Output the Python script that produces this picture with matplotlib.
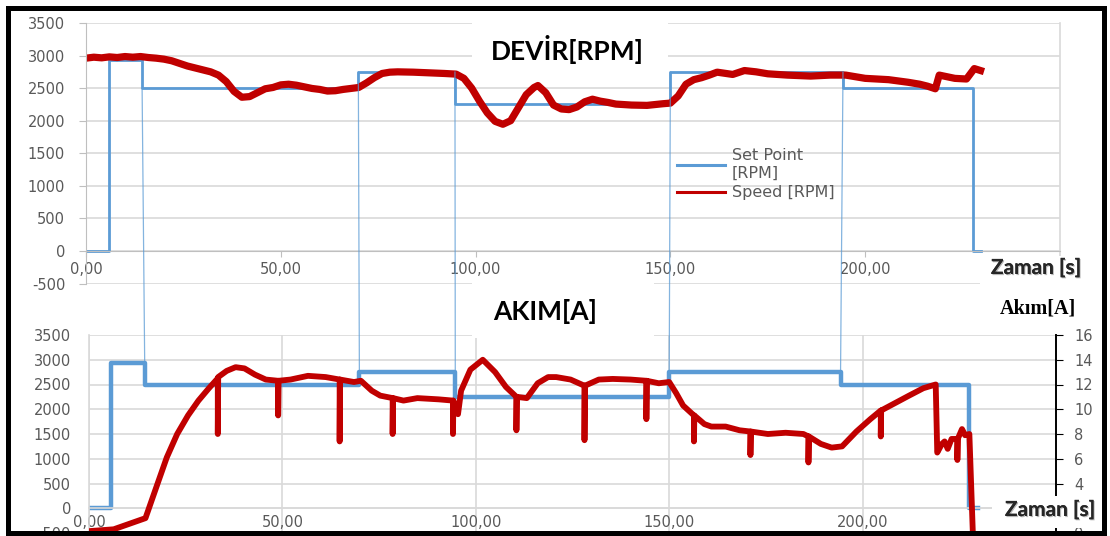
import numpy as np
import matplotlib
matplotlib.use('Agg')
import matplotlib.pyplot as plt
from matplotlib.patches import ConnectionPatch, Rectangle
from matplotlib.lines import Line2D
import matplotlib.patheffects as pe

plt.rcParams['axes.unicode_minus'] = False

# ---------------- data ----------------
# set point (RPM), step changes (same profile in both charts)
sp_t = [0, 5.8, 14.4, 69.9, 94.7, 150.0, 194.3, 227.6, 229.8]
sp_rpm = [0, 2930, 2500, 2750, 2250, 2750, 2500, 0, 0]

# measured speed (RPM), top chart
spd_t = [0, 2, 4, 6, 8, 10, 12, 14, 16, 18, 20, 22, 24, 26, 28, 30, 32, 34, 36,
         38, 40, 42, 44, 46, 48, 50, 52, 54, 56, 58, 60, 62, 64, 66, 68, 70, 72,
         74, 76, 78, 80, 84, 88, 92, 95, 97, 99, 101, 103, 105, 107, 109, 111,
         113, 115, 116, 118, 120, 122, 124, 126, 128, 130, 132, 134, 136, 140,
         144, 148, 150, 152, 154, 156, 158, 160, 162, 166, 169, 172, 175, 180,
         186, 191, 195, 200, 206, 211, 214, 216, 218, 219, 223, 226, 228, 229.6]
spd_rpm = [2960, 2975, 2965, 2980, 2970, 2985, 2975, 2985, 2970, 2960, 2945,
           2920, 2880, 2840, 2810, 2780, 2750, 2700, 2600, 2450, 2360, 2370,
           2430, 2490, 2510, 2550, 2560, 2545, 2520, 2495, 2480, 2455, 2460,
           2480, 2495, 2510, 2580, 2660, 2725, 2745, 2750, 2745, 2735, 2725,
           2715, 2650, 2500, 2300, 2120, 1990, 1945, 2000, 2200, 2400, 2510,
           2540, 2430, 2240, 2180, 2170, 2210, 2290, 2330, 2300, 2280, 2255,
           2240, 2235, 2260, 2270, 2380, 2560, 2630, 2660, 2700, 2745, 2710,
           2770, 2750, 2720, 2700, 2685, 2700, 2700, 2650, 2630, 2590, 2560,
           2530, 2490, 2700, 2650, 2640, 2800, 2770]

# motor current (A), bottom chart (right axis); sharp dips are load pulses
cur_t = [0, 6.4, 14.6, 17.4, 20.1, 22.8, 25.6, 28.3, 31.0,
         33.3, 33.3, 33.4, 35.6, 37.9, 40.2, 42.9, 45.7,
         48.9, 48.9, 49.0, 52.1, 56.6, 61.2,
         64.8, 64.8, 64.9, 68.5, 70.3, 73.1, 75.3,
         78.5, 78.5, 78.6, 81.3, 84.9, 90.4,
         94.1, 94.1, 94.2, 95.4, 96.2, 98.6, 101.8, 105.0, 107.8,
         110.5, 110.5, 110.6, 113.2, 116.0, 118.7, 120.8, 124.5,
         128.1, 128.1, 128.2, 131.8, 135.4, 140.0,
         144.1, 144.1, 144.2, 147.3, 150.0, 151.8, 153.6,
         156.4, 156.4, 156.5, 159.1, 160.9, 164.6, 168.2,
         171.0, 171.0, 171.1, 175.5, 180.1, 184.7,
         186.0, 186.0, 186.1, 189.2, 192.0, 194.7, 198.4, 202.0,
         204.7, 204.7, 204.8, 208.4, 212.0, 215.7, 218.9, 219.3, 220.5,
         221.2, 222.0, 223.0, 224.5, 224.5, 224.6, 225.7, 226.5, 227.6, 228.5]
cur_a = [0.15, 0.3, 1.2, 3.7, 6.1, 8.0, 9.5, 10.7, 11.7,
         12.5, 8.0, 12.6, 13.1, 13.4, 13.3, 12.8, 12.4,
         12.3, 9.5, 12.3, 12.4, 12.7, 12.6,
         12.4, 7.4, 12.4, 12.2, 12.3, 11.5, 11.1,
         10.9, 8.0, 10.9, 10.7, 10.9, 10.8,
         10.7, 8.0, 10.7, 9.6, 11.5, 13.2, 14.0, 13.0, 11.8,
         11.0, 8.3, 11.0, 10.9, 12.1, 12.6, 12.6, 12.4,
         11.9, 7.5, 11.9, 12.4, 12.45, 12.4,
         12.3, 9.2, 12.3, 12.1, 12.2, 11.3, 10.3,
         9.5, 7.4, 9.5, 8.8, 8.6, 8.6, 8.3,
         8.2, 6.3, 8.2, 8.0, 8.1, 8.0,
         7.8, 5.7, 7.8, 7.2, 6.9, 7.0, 8.2, 9.2,
         9.9, 7.8, 9.9, 10.5, 11.1, 11.7, 12.0, 6.5, 7.2,
         7.4, 6.8, 7.6, 7.6, 5.9, 7.6, 8.4, 7.9, 8.0, 0.0]

# thin guide lines linking the set-point steps of both charts
conn_t = [14.4, 69.9, 94.7, 150.0, 194.3]
conn_top = [2500, 2750, 2750, 2750, 2750]
conn_bot = [2930, 2750, 2250, 2750, 2750]

x_ticks = [0, 50, 100, 150, 200]
x_labels = ['0,00', '50,00', '100,00', '150,00', '200,00']
rpm_ticks = [-500, 0, 500, 1000, 1500, 2000, 2500, 3000, 3500]
amp_ticks = [0, 2, 4, 6, 8, 10, 12, 14, 16]
amp_labels = ['0', '', '4', '6', '8', '10', '12', '14', '16']  # "2" sits under the label box

# ---------------- style ----------------
BLUE = '#5B9BD5'
RED = '#C00000'
GRID = '#D9D9D9'
AXC = '#BFBFBF'
TXT = '#595959'

W, H = 1110, 536
fig = plt.figure(figsize=(W / 100, H / 100), dpi=100)
fig.patch.set_facecolor('white')


def fx(px):
    return px / W


def fy(py):
    return 1 - py / H


# ---------------- top chart: speed ----------------
ax1 = fig.add_axes([fx(86), fy(283.5), (1060 - 86) / W, (283.5 - 23) / H])
ax1.set_xlim(0, 250)
ax1.set_ylim(-500, 3500)
ax1.set_yticks(rpm_ticks)
ax1.set_xticks(x_ticks, x_labels)
ax1.yaxis.grid(True, color=GRID, lw=1.2)
ax1.set_axisbelow(True)
ax1.spines['top'].set_visible(False)
ax1.spines['right'].set_color(GRID)
ax1.spines['right'].set_linewidth(1.2)
ax1.spines['left'].set_color(AXC)
ax1.spines['bottom'].set_position(('data', 0))
ax1.spines['bottom'].set_color(AXC)
ax1.tick_params(axis='x', direction='out', length=4, color=AXC,
                labelcolor=TXT, labelsize=10.5, pad=4)
ax1.tick_params(axis='y', direction='out', length=5, color=AXC,
                labelcolor=TXT, labelsize=10.5, pad=10)
ax1.plot(sp_t, sp_rpm, drawstyle='steps-post', color=BLUE, lw=2.0)
ax1.plot(spd_t, spd_rpm, color=RED, lw=5.2, solid_joinstyle='round')

handles = [Line2D([], [], color=BLUE, lw=2.2), Line2D([], [], color=RED, lw=2.2)]
ax1.legend(handles, ['Set Point\n[RPM]', 'Speed [RPM]'], loc='upper left',
           bbox_to_anchor=(0.607, 0.52), frameon=False, fontsize=11.5,
           labelcolor=TXT, handlelength=3.0, handletextpad=0.4,
           borderpad=0, borderaxespad=0, labelspacing=0.3)

# ---------------- bottom chart: current ----------------
ax2 = fig.add_axes([fx(89), fy(533), (1056 - 89) / W, (533 - 335) / H])
ax2.set_xlim(0, 250)
ax2.set_ylim(-500, 3500)
ax2.set_yticks(rpm_ticks)
ax2.set_xticks(x_ticks + [250], x_labels + [''])
ax2.grid(True, color=GRID, lw=1.2)
ax2.set_axisbelow(True)
for s in ['top', 'right']:
    ax2.spines[s].set_visible(False)
ax2.spines['left'].set_color(GRID)
ax2.spines['left'].set_linewidth(1.2)
ax2.spines['bottom'].set_position(('data', 0))
ax2.spines['bottom'].set_color(GRID)
ax2.spines['bottom'].set_linewidth(1.2)
ax2.tick_params(axis='both', length=0, labelcolor=TXT, labelsize=10.5)
ax2.tick_params(axis='y', pad=13)
ax2.tick_params(axis='x', pad=5)
ax2.plot(sp_t, sp_rpm, drawstyle='steps-post', color=BLUE, lw=3.2)

ax3 = ax2.twinx()
ax3.set_ylim(0, 16)
ax3.set_yticks(amp_ticks, amp_labels)
for s in ['top', 'left', 'bottom']:
    ax3.spines[s].set_visible(False)
ax3.spines['right'].set_color('black')
ax3.spines['right'].set_linewidth(1.4)
ax3.tick_params(axis='y', direction='out', length=5, color='black',
                labelcolor=TXT, labelsize=10.5, pad=8)
ax3.plot(cur_t, cur_a, color=RED, lw=4.2, solid_joinstyle='round')

# ---------------- white label boxes (pasted text boxes) ----------------
for (x0, y0, x1, y1) in [(472, 17, 668, 78), (472, 282, 654, 338),
                         (980, 256, 1100, 290), (992, 496, 1100, 528)]:
    fig.add_artist(Rectangle((fx(x0), fy(y1)), (x1 - x0) / W, (y1 - y0) / H,
                             transform=fig.transFigure, facecolor='white',
                             edgecolor='none', zorder=1))

# ---------------- connectors between charts ----------------
for t, a, b in zip(conn_t, conn_top, conn_bot):
    con = ConnectionPatch(xyA=(t, a), coordsA=ax1.transData,
                          xyB=(t, b), coordsB=ax2.transData,
                          color=BLUE, lw=0.9, alpha=0.75,
                          shrinkA=0, shrinkB=0, zorder=2)
    fig.add_artist(con)

# ---------------- texts ----------------
fig.text(fx(567), fy(50), 'DEVİR[RPM]', family='Lato', weight='bold',
         size=19, ha='center', va='center', color='black', zorder=3)
fig.text(fx(545), fy(312), 'AKIM[A]', family='Lato', weight='bold',
         size=19, ha='center', va='center', color='black', zorder=3)
fig.text(fx(1038), fy(309), 'Akım[A]', family='Liberation Serif',
         weight='bold', size=14.5, ha='center', va='center', color='black',
         zorder=3)
shadow = [pe.withSimplePatchShadow(offset=(0.8, -0.8), shadow_rgbFace='#888888',
                                   alpha=0.6), pe.Normal()]
fig.text(fx(1036), fy(268), 'Zaman [s]', family='Lato', weight='bold',
         size=15, ha='center', va='center', color='#262626',
         path_effects=shadow, zorder=3)
fig.text(fx(1050), fy(510), 'Zaman [s]', family='Lato', weight='bold',
         size=15, ha='center', va='center', color='#262626',
         path_effects=shadow, zorder=3)

# ---------------- outer black frame ----------------
fig.add_artist(Rectangle((fx(7.5), fy(533)), (1104 - 7.5) / W, (533 - 7.5) / H,
                         transform=fig.transFigure, facecolor='none',
                         edgecolor='black', lw=3.6, zorder=10))

fig.savefig('out.png', dpi=100, facecolor='white')
